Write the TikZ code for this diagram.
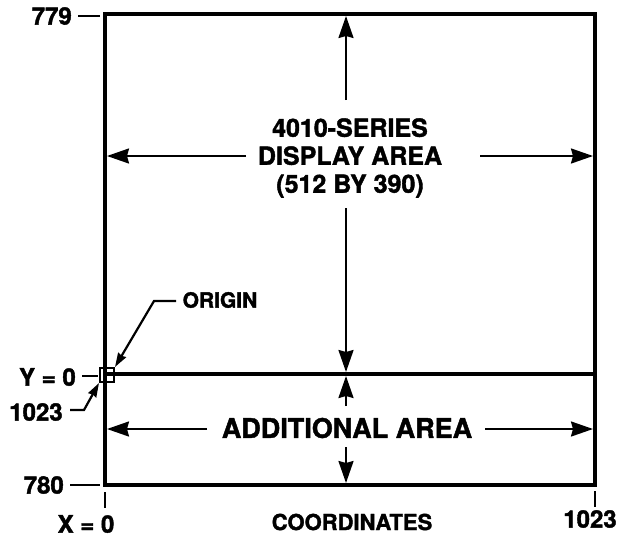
\documentclass[tikz,border=0pt]{standalone}
\usepackage{fontspec}
\setmainfont{TeX Gyre Heros}[BoldFeatures={FakeBold=1.6}]
\usetikzlibrary{arrows.meta}

\begin{document}
\begin{tikzpicture}[x=1pt, y=-1pt,
  frame/.style={line width=4.5pt},
  dim/.style={line width=2.2pt, -{Stealth[length=22pt,width=15pt,inset=2pt]}},
  lead/.style={line width=2.2pt, -{Stealth[length=14pt,width=9pt,inset=1pt]}},
  tick/.style={line width=2.2pt},
  lbl/.style={font=\fontsize{22}{24}\selectfont\bfseries, inner sep=0pt},
  num/.style={font=\fontsize{24}{26}\selectfont\bfseries, inner sep=0pt},
  big/.style={font=\fontsize{25}{28}\selectfont\bfseries, align=center, inner sep=0pt}]

\useasboundingbox (0,0) rectangle (621,539);

% frame of the screen
\coordinate (tl) at (105,14);
\coordinate (tr) at (595,14);
\coordinate (bl) at (105,485);
\coordinate (br) at (595,485);
\coordinate (ml) at (105,374);
\coordinate (mr) at (595,374);
\draw[frame, line cap=rect] (tl) -- (tr) -- (br) -- (bl) -- cycle;
\draw[line width=3.5pt] (ml) -- (mr);

% texts
\node[big] (disp) at (350,158) {4010-SERIES\\DISPLAY AREA\\(512 BY 390)};
\node[big, font=\fontsize{27}{29}\selectfont\bfseries] (add) at (347,428) {ADDITIONAL AREA};

% display area arrows
\coordinate (dt0) at (346,100);
\coordinate (dt1) at (346,16);
\coordinate (db0) at (346,208);
\coordinate (db1) at (346,372);
\coordinate (dl0) at (246,156);
\coordinate (dl1) at (107,156);
\coordinate (dr0) at (480,156);
\coordinate (dr1) at (593,156);
\draw[dim] (dt0) -- (dt1);
\draw[dim] (db0) -- (db1);
\draw[dim] (dl0) -- (dl1);
\draw[dim] (dr0) -- (dr1);

% additional area arrows
\coordinate (at0) at (346,406);
\coordinate (at1) at (346,376);
\coordinate (ab0) at (346,447);
\coordinate (ab1) at (346,483);
\coordinate (al0) at (207,429);
\coordinate (al1) at (107,429);
\coordinate (ar0) at (485,429);
\coordinate (ar1) at (593,429);
\draw[dim] (at0) -- (at1);
\draw[dim] (ab0) -- (ab1);
\draw[dim] (al0) -- (al1);
\draw[dim] (ar0) -- (ar1);

% left labels
\node[num, anchor=east] (n779) at (72,16) {779};
\draw[tick] (78,16) -- (100,16);
\node[num, anchor=east] (y0) at (76,377) {Y = 0};
\draw[tick] (82,376) -- (98,376);
\node[num, anchor=east] (n780) at (64,485) {780};
\draw[tick] (70,485) -- (100,485);

% origin marker
\node[draw, line width=2pt, minimum size=14pt, inner sep=0pt] (orig) at (107,375) {};
\node[lbl, font=\fontsize{21}{23}\selectfont\bfseries] (origin) at (220,300) {ORIGIN};
\coordinate (o1) at (176,301);
\coordinate (o2) at (154,301);
\draw[lead] (o1) -- (o2) -- (orig.north east);
\node[num] (n1023l) at (36,412) {1023};
\coordinate (c1) at (70,410);
\coordinate (c2) at (84,410);
\draw[lead] (c1) -- (c2) -- (orig.south west);

% bottom labels
\coordinate (xt0) at (105,492);
\coordinate (xt1) at (105,508);
\coordinate (rt0) at (595,491);
\coordinate (rt1) at (595,507);
\draw[tick] (xt0) -- (xt1);
\draw[tick] (rt0) -- (rt1);
\node[num] (x0) at (86,524) {X = 0};
\node[lbl] (coord) at (352,522) {COORDINATES};
\node[num] (n1023r) at (590,519) {1023};

\end{tikzpicture}
\end{document}
